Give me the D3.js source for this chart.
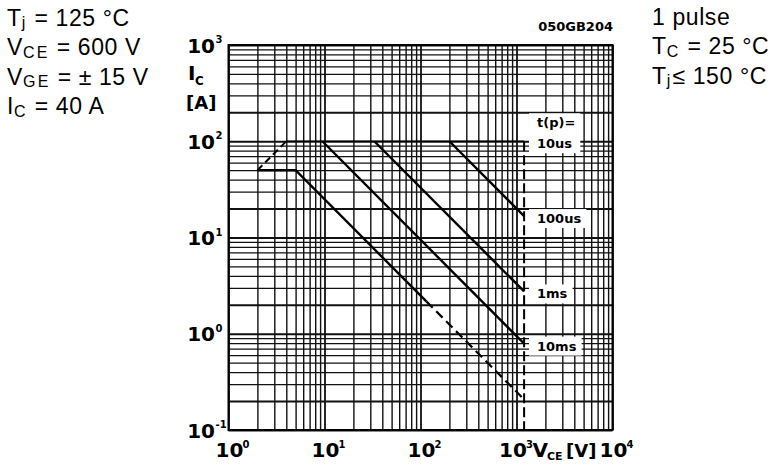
<!DOCTYPE html>
<html><head><meta charset="utf-8">
<script src="https://cdn.jsdelivr.net/npm/d3@7"></script>
<style>
body{margin:0;background:#fff;}
svg{display:block;}
.grid path{display:none;}
.grid line{stroke:#111;}
</style></head><body>
<svg id="c" width="771" height="472"></svg>
<script>
// ---------- data ----------
const xDomain = [1, 1e4];           // V_CE [V]
const yDomain = [0.1, 1e3];         // I_C [A]
const gridMultipliers = [1,2,3,4,5,6,7,8,9];
const xDecades = [0,1,2,3];
const yDecades = [-1,0,1,2];
const xTickExps = [0,1,2,3,4];
const yTickExps = [-1,0,1,2,3];
const pulseLabels = ["10us","100us","1ms","10ms"];
const pulseStartV = [4, 200, 33, 9.5];       // where each limit leaves 100 A
const pulseStartI = [100, 100, 100, 100];
const pulseEndV   = [1200, 1200, 1200, 1200];
const pulseEndI   = [100, 16.7, 2.75, 0.79];
const dcSolidV = [2, 5, 115];
const dcSolidI = [50, 50, 2.17];
const dcDashV  = [115, 1200];
const dcDashI  = [2.17, 0.208];
const riseV = [2, 4];
const riseI = [50, 100];
const vcesV = [1200, 1200];
const vcesI = [100, 0.1];
const leftNotes = [
  [["T"],["j","sub"],[" = 125 °C"]],
  [["V"],["CE","sub"],[" = 600 V"]],
  [["V"],["GE","sub"],[" = ± 15 V"]],
  [["I"],["C","sub"],[" = 40 A"]]
];
const rightNotes = [
  [["1 pulse"]],
  [["T"],["C","sub"],[" = 25 °C"]],
  [["T"],["j","sub"],["≤ 150 °C"]]
];
const figId = "050GB204";

// ---------- layout ----------
const L = 228.5, R = 612.5, T = 45, B = 430;
const svg = d3.select("#c");
const x = d3.scaleLog().domain(xDomain).range([L, R]);
const y = d3.scaleLog().domain(yDomain).range([B, T]);
const bold = "'DejaVu Sans', sans-serif";
const sans = "'Liberation Sans', Arial, sans-serif";

// grid via axes
const xGrid = xDecades.flatMap(d => gridMultipliers.map(m => m * Math.pow(10, d))).concat([1e4]);
const yGrid = yDecades.flatMap(d => gridMultipliers.map(m => m * Math.pow(10, d))).concat([1e3]);
const gx = svg.append("g").attr("class","grid").attr("transform",`translate(0,${B})`)
  .call(d3.axisBottom(x).tickValues(xGrid).tickSize(-(B - T)).tickFormat(""));
const gy = svg.append("g").attr("class","grid").attr("transform",`translate(${L},0)`)
  .call(d3.axisLeft(y).tickValues(yGrid).tickSize(-(R - L)).tickFormat(""));
const isMajor = v => { const l = Math.log10(v); return Math.abs(l - Math.round(l)) < 1e-6; };
const isTwo = v => { const l = Math.log10(v/2); return Math.abs(l - Math.round(l)) < 1e-6; };
gx.selectAll("line").attr("stroke-width", d => isMajor(d) ? 1.8 : 1.4);
gy.selectAll("line").attr("stroke-width", d => (isMajor(d) || isTwo(d)) ? 1.9 : 1.3);

// frame
svg.append("rect").attr("x",L).attr("y",T).attr("width",R-L).attr("height",B-T)
  .attr("fill","none").attr("stroke","#000").attr("stroke-width",2);

// labels with white boxes
const lblG = svg.append("g");
function addLbl(txt, ly){
  return lblG.append("text").attr("x", 537).attr("y", ly)
    .attr("font-family", bold).attr("font-weight","bold").attr("font-size", 13)
    .attr("fill","#000").text(txt);
}
const labelNodes = pulseLabels.map((lab,i) => addLbl(lab, y(pulseEndI[i]) + 7));
const tpNode = addLbl("t(p)=", y(pulseEndI[0]) - 14);
function boxFor(nodes){
  let x0=1e9,y0=1e9,x1=-1e9,y1=-1e9;
  nodes.forEach(n => { const b = n.node().getBBox();
    x0=Math.min(x0,b.x); y0=Math.min(y0,b.y); x1=Math.max(x1,b.x+b.width); y1=Math.max(y1,b.y+b.height); });
  lblG.insert("rect","text").attr("x",529).attr("y",y0-2).attr("width",x1+5-529).attr("height",y1-y0+4).attr("fill","#fff");
}
boxFor([tpNode, labelNodes[0]]);
for (let i=1;i<labelNodes.length;i++) boxFor([labelNodes[i]]);

// curves
const line = d3.line().x(d => x(d[0])).y(d => y(d[1]));
const zip = (a,b) => a.map((v,i) => [v, b[i]]);
const curves = svg.append("g").attr("fill","none").attr("stroke","#000").attr("stroke-linecap","butt");
pulseLabels.forEach((lab,i) => {
  curves.append("path").attr("d", line([[pulseStartV[i],pulseStartI[i]],[pulseEndV[i],pulseEndI[i]]]))
    .attr("stroke-width", i===0 ? 1.6 : 2.4);
});
curves.append("path").attr("d", line(zip(dcSolidV, dcSolidI))).attr("stroke-width",2.4);
curves.append("path").attr("d", line(zip(dcDashV, dcDashI))).attr("stroke-width",2.2).attr("stroke-dasharray","9,5");
curves.append("path").attr("d", line(zip(riseV, riseI))).attr("stroke-width",2).attr("stroke-dasharray","7,4");
curves.append("path").attr("d", line(zip(vcesV, vcesI))).attr("stroke-width",2).attr("stroke-dasharray","10,4");

// tick labels
const tl = svg.append("g").attr("font-family", bold).attr("font-weight","bold").attr("fill","#000");
yTickExps.forEach(e => {
  const yy = y(Math.pow(10,e));
  tl.append("text").attr("x",215).attr("y",yy+7.5).attr("text-anchor","end").attr("font-size",20).text("10");
  tl.append("text").attr("x",215.5).attr("y",yy-2).attr("font-size",10).text(e<0 ? "-"+(-e) : e);
});
xTickExps.forEach(e => {
  const xx = x(Math.pow(10,e));
  const crowd = (e === 3);          // next to the axis title: shifted left like the reference
  tl.append("text").attr("x",xx + (crowd ? -3.5 : 1)).attr("y",456.5).attr("text-anchor","middle").attr("font-size",20).text("10");
  tl.append("text").attr("x",xx + (crowd ? 9.5 : 14)).attr("y",447.5).attr("font-size",10).text(e);
});
// axis titles
tl.append("text").attr("x",188).attr("y",80).attr("font-size",20).text("I");
tl.append("text").attr("x",195).attr("y",85).attr("font-size",12).text("C");
tl.append("text").attr("x",186).attr("y",109).attr("font-size",18).text("[A]");
tl.append("text").attr("x",532.5).attr("y",456.5).attr("font-size",20).text("V");
tl.append("text").attr("x",547).attr("y",460).attr("font-size",11).text("CE");
tl.append("text").attr("x",566).attr("y",456.5).attr("font-size",18).text("[V]");
tl.append("text").attr("x",613).attr("y",31).attr("text-anchor","end").attr("font-size",13).text(figId);

// notes
function note(parts, x0, yb){
  const t = svg.append("text").attr("x",x0).attr("y",yb).attr("font-family",sans)
    .attr("font-size",23).attr("letter-spacing",0.6).attr("fill","#000");
  let sub = false;
  parts.forEach(p => {
    const s = t.append("tspan").text(p[0]);
    let dy = 0;
    if (p[1] === "sub") { s.attr("font-size",16).attr("letter-spacing",2.3); dy = 2.5; sub = true; }
    else if (sub) { dy = -2.5; sub = false; }
    if (dy) s.attr("dy", dy);
  });
}
leftNotes.forEach((p,i) => note(p, 7, 25.5 + i*29.5));
rightNotes.forEach((p,i) => note(p, 652, 24.5 + i*29.5));
</script></body></html>
